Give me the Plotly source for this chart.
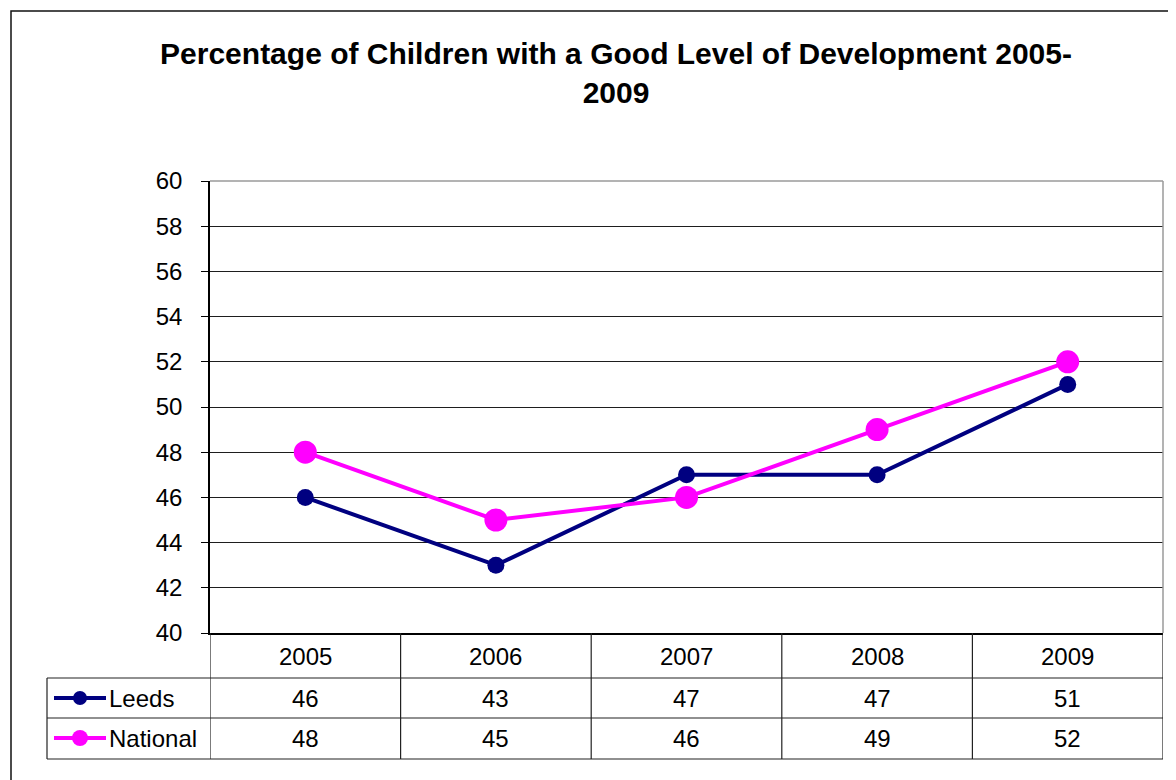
import plotly.graph_objects as go

years = ["2005", "2006", "2007", "2008", "2009"]
leeds = [46, 43, 47, 47, 51]
national = [48, 45, 46, 49, 52]
series_names = ["Leeds", "National"]
series_colors = ["#000080", "#FF00FF"]
marker_sizes = [17, 23]
title_text = "Percentage of Children with a Good Level of Development 2005-<br>2009"

OFF = 8  # default page body margin
W, H = 1176 - OFF, 780 - OFF
# plot area in screen pixels
L, R, T, B = 210, 1163, 181, 633
FONT = "Liberation Sans, Arial, sans-serif"


def px_x(p):
    return (p - L) / (R - L)


def px_y(p):
    return (B - p) / (B - T)


fig = go.Figure()
for name, vals, col, ms in zip(series_names, [leeds, national], series_colors, marker_sizes):
    fig.add_trace(go.Scatter(
        x=years, y=vals, mode="lines+markers", name=name,
        line=dict(color=col, width=4),
        marker=dict(color=col, size=ms),
        showlegend=False, cliponaxis=False,
    ))

shapes = []
annotations = []
line_col = "#222222"

# outer frame
shapes.append(dict(type="rect", xref="paper", yref="paper",
                   x0=px_x(11), x1=px_x(1200), y0=px_y(800), y1=px_y(11),
                   line=dict(color="#111111", width=1.5), layer="below"))
# plot border (top, right)
shapes.append(dict(type="line", xref="paper", yref="paper", x0=0, x1=1, y0=1, y1=1,
                   line=dict(color="#9a9a9a", width=1.5), layer="above"))
shapes.append(dict(type="line", xref="paper", yref="paper", x0=1, x1=1, y0=0, y1=1,
                   line=dict(color="#9a9a9a", width=1.5), layer="above"))

# data table
row_lines = [678, 718, 759]
for yy in row_lines:
    shapes.append(dict(type="line", xref="paper", yref="paper",
                       x0=px_x(47), x1=1, y0=px_y(yy), y1=px_y(yy),
                       line=dict(color=line_col, width=1.2)))
shapes.append(dict(type="line", xref="paper", yref="paper",
                   x0=px_x(47), x1=px_x(47), y0=px_y(678), y1=px_y(759),
                   line=dict(color=line_col, width=1.2)))
for k in range(len(years) + 1):
    shapes.append(dict(type="line", xref="x", yref="paper",
                       x0=k - 0.5, x1=k - 0.5, y0=0, y1=px_y(759),
                       line=dict(color=line_col, width=1.2)))

font = dict(family=FONT, size=24, color="#000000")
for i, yr in enumerate(years):
    annotations.append(dict(x=i, y=px_y(656), xref="x", yref="paper", text=yr,
                            showarrow=False, font=font, xanchor="center", yanchor="middle"))
row_centers = [698, 738]
for vals, yc in zip([leeds, national], row_centers):
    for i, v in enumerate(vals):
        annotations.append(dict(x=i, y=px_y(yc), xref="x", yref="paper", text=str(v),
                                showarrow=False, font=font, xanchor="center", yanchor="middle"))

for name, col, yc, msz in zip(series_names, series_colors, row_centers, [7, 8]):
    shapes.append(dict(type="line", xref="paper", yref="paper",
                       x0=px_x(54), x1=px_x(106), y0=px_y(yc), y1=px_y(yc),
                       line=dict(color=col, width=4)))
    shapes.append(dict(type="circle", xref="paper", yref="paper",
                       x0=px_x(80 - msz), x1=px_x(80 + msz), y0=px_y(yc + msz), y1=px_y(yc - msz),
                       fillcolor=col, line=dict(color=col, width=0)))
    annotations.append(dict(x=px_x(107), y=px_y(yc), xref="paper", yref="paper", text=name,
                            showarrow=False, font=font, xanchor="left", yanchor="middle"))

fig.update_layout(
    width=W, height=H,
    margin=dict(l=L - OFF, r=(W + OFF) - R, t=T - OFF, b=(H + OFF) - B, pad=0),
    paper_bgcolor="#ffffff", plot_bgcolor="#ffffff",
    font=dict(family=FONT, color="#000000"),
    title=dict(text="<b>" + title_text + "</b>", x=(616 - OFF) / W, xref="container", xanchor="center",
               y=1 - (64 - OFF) / H, yref="container", yanchor="top",
               font=dict(family=FONT, size=30, color="#000000")),
    shapes=shapes, annotations=annotations,
    showlegend=False,
)
fig.update_xaxes(type="category", range=[-0.5, len(years) - 0.5], showticklabels=False,
                 showgrid=False, zeroline=False, showline=True, linecolor="#000000", linewidth=1.5,
                 ticks="")
fig.update_yaxes(range=[40, 60], dtick=2, tick0=40, showgrid=True, gridcolor="#1e1e1e", gridwidth=1.2,
                 zeroline=False, showline=True, linecolor="#000000", linewidth=1.5,
                 ticks="outside", ticklen=7, tickcolor="#000000", tickwidth=1.2,
                 ticklabelstandoff=14, tickfont=dict(family=FONT, size=24, color="#000000"))

fig.write_html("out.html")
